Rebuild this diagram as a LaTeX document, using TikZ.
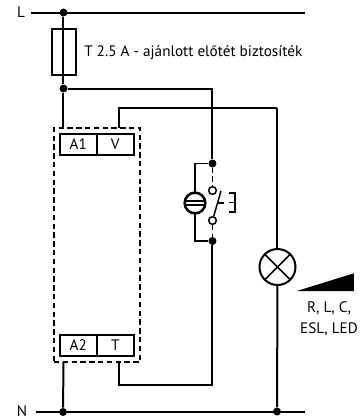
\documentclass[tikz,border=0pt]{standalone}
\usepackage{fontspec}
\setmainfont{PT Sans}
\usepackage{tikz}
\begin{document}
\begin{tikzpicture}[x=0.75pt,y=-0.75pt]
        \tikzset{wire/.style={line width=1.5pt},
        thinwire/.style={line width=1.1pt},
        dot/.style={circle,fill=black,inner sep=0pt,minimum size=6pt},
        pin/.style={circle,draw,fill=white,line width=1.1pt,inner sep=0pt,minimum size=5.8pt},
        term/.style={draw,line width=1.5pt,inner sep=0pt,outer sep=0pt,minimum height=16pt,font=\fontsize{11.4}{13}\selectfont},
        txt/.style={font=\fontsize{11.4}{13}\selectfont,inner sep=0pt}}
        \useasboundingbox (0,0) rectangle (361,419);
        % supply lines
        \coordinate (lstart) at (31,12.5);
        \coordinate (lend) at (305,12.5);
        \coordinate (nstart) at (36,412);
        \coordinate (nend) at (305,412);
        \node[txt] (ltext) at (21,12.5) {L};
        \node[txt] (ntext) at (22,411) {N};
        \node[dot] (ljoin) at (63.5,12.5) {};
        \node[dot] (fjoin) at (63.5,88.5) {};
        \node[dot] (njoin) at (63,412) {};
        \node[dot] (lampjoin) at (277,411.5) {};
        \draw[wire] (lstart) -- (lend);
        \draw[wire] (nstart) -- (nend);
        % fuse
        \node[draw,line width=1.5pt,inner sep=0pt,outer sep=0pt,minimum width=18pt,minimum height=34.5pt] (fuse) at (64,52) {};
        \node[txt,anchor=west] (fusetext) at (84,53) {T 2.5 A - ajánlott előtét biztosíték};
        % module
        \node[draw,line width=1.5pt,dash pattern=on 4pt off 2.6pt,inner sep=0pt,outer sep=0pt,minimum width=64.5pt,minimum height=175.5pt] (module) at (97,245) {};
        \node[term,minimum width=27.4pt] (aone) at (78.25,144.25) {A1};
        \node[term,minimum width=28.1pt] (vterm) at (115.25,144.25) {V};
        \node[term,minimum width=27.4pt] (atwo) at (78.25,345.25) {A2};
        \node[term,minimum width=28.1pt] (tterm) at (115.25,345.25) {T};
        \coordinate (ain) at (63.5,128);
        \coordinate (aout) at (63.5,362);
        \coordinate (vout) at (119,128);
        \coordinate (tout) at (119,362);
        \coordinate (vcorner) at (119,107.5);
        \coordinate (tcorner) at (119,385);
        \coordinate (tturn) at (212.5,385);
        \coordinate (lampcorner) at (277.5,107.5);
        \coordinate (swcorner) at (212.5,88.5);
        \draw[wire] (ljoin) -- (fjoin);
        \draw[wire] (fjoin) -- (ain);
        \draw[wire] (aout) -- (njoin);
        % switch branch
        \node[dot] (topjoin) at (212.5,163.5) {};
        \node[dot] (botjoin) at (212.5,241) {};
        \node[pin] (toppin) at (212.5,190.5) {};
        \node[pin] (botpin) at (212.5,220.5) {};
        \node[circle,draw,line width=1.9pt,inner sep=0pt,outer sep=0pt,minimum size=15.5pt] (neon) at (195,203) {};
        \coordinate (bladeend) at (221,191);
        \coordinate (bladestub) at (218,203);
        \coordinate (stubend) at (224,203);
        \coordinate (brstub) at (229,202.5);
        \coordinate (brmid) at (235,202.5);
        \coordinate (brtop) at (229,193);
        \coordinate (brbot) at (229,212);
        \coordinate (brtopr) at (235,193);
        \coordinate (brbotr) at (235,212);
        \coordinate (neonal) at (184,201);
        \coordinate (neonar) at (206,201);
        \coordinate (neonbl) at (184,205);
        \coordinate (neonbr) at (206,205);
        \draw[wire] (fjoin) -- (swcorner) -- (topjoin);
        \draw[wire] (botjoin) -- (tturn) -- (tcorner) -- (tout);
        \draw[wire] (vout) -- (vcorner) -- (lampcorner);
        \draw[thinwire] (topjoin) -| (neon.north);
        \draw[thinwire] (neon.south) |- (botjoin);
        \draw[thinwire,dash pattern=on 4pt off 2.5pt] (topjoin) -- (toppin);
        \draw[thinwire,dash pattern=on 4pt off 2.5pt] (botpin) -- (botjoin);
        \draw[thinwire] (botpin) -- (bladeend);
        \draw[thinwire] (bladestub) -- (stubend);
        \draw[thinwire] (brtop) -- (brtopr) -- (brbotr) -- (brbot);
        \draw[thinwire] (brstub) -- (brmid);
        \draw[thinwire] (neonal) -- (neonar);
        \draw[thinwire] (neonbl) -- (neonbr);
        % lamp and load
        \node[circle,draw,line width=1.5pt,inner sep=0pt,outer sep=0pt,minimum size=27pt] (lamp) at (277.5,267) {};
        \draw[thinwire] (lamp.45) -- (lamp.225);
        \draw[thinwire] (lamp.135) -- (lamp.315);
        \draw[wire] (lampcorner) -- (lamp.north);
        \draw[wire] (lamp.south) -- (lampjoin);
        \fill (296.7,291) -- (354,273.3) -- (354,291) -- cycle;
        \node[txt] (loadone) at (329,308) {R, L, C,};
        \node[txt] (loadtwo) at (329,329) {ESL, LED};
        \end{tikzpicture}
\end{document}
